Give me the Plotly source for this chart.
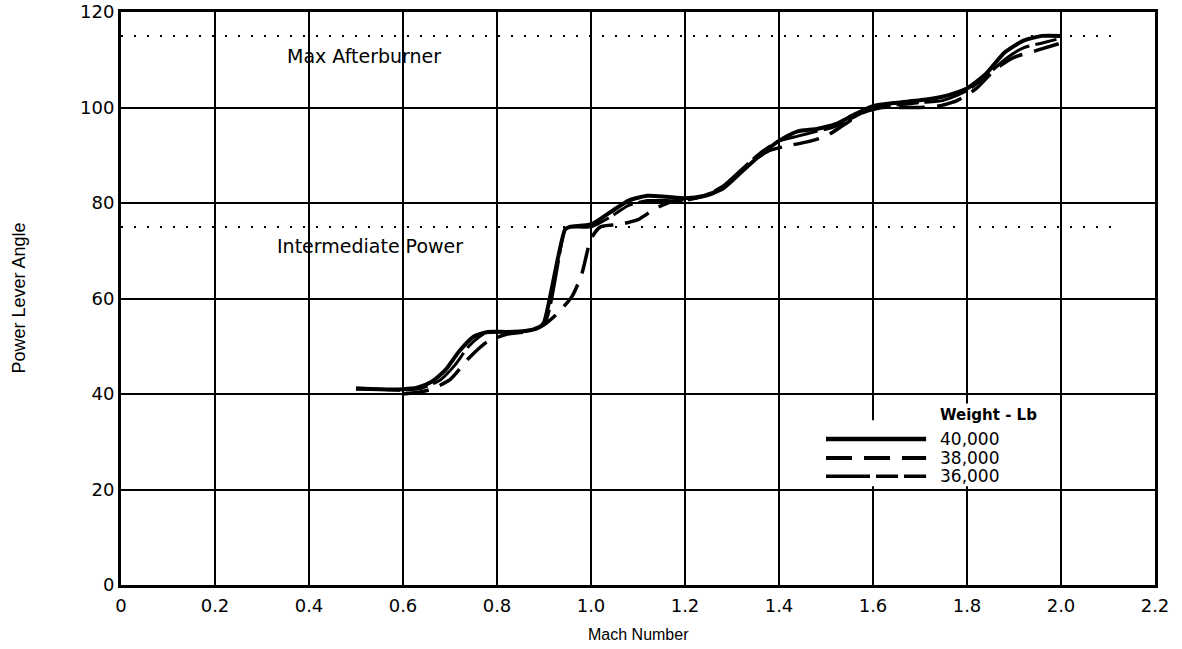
import plotly.graph_objects as go

# Power lever angle vs Mach number for three gross weights
mach_40k = [0.50, 0.55, 0.60, 0.63, 0.66, 0.69, 0.72, 0.75, 0.78, 0.82, 0.86, 0.89, 0.90,
            0.945, 0.955, 1.00, 1.04, 1.08, 1.12, 1.16, 1.20, 1.24, 1.28, 1.32, 1.36, 1.40,
            1.44, 1.48, 1.52, 1.56, 1.60, 1.65, 1.70, 1.75, 1.80, 1.84, 1.88, 1.92, 1.96, 2.00]
pla_40k = [41.2, 41.0, 41.0, 41.3, 42.5, 45.0, 49.0, 52.0, 53.0, 53.0, 53.2, 54.0, 55.0,
           74.5, 75.0, 75.5, 78.0, 80.5, 81.5, 81.3, 81.0, 81.5, 83.0, 86.5, 90.0, 93.0,
           95.0, 95.5, 96.5, 98.5, 100.3, 101.0, 101.5, 102.3, 104.0, 107.0, 111.5, 114.0, 115.0, 115.0]

mach_38k = [0.60, 0.63, 0.66, 0.70, 0.74, 0.78, 0.82, 0.86, 0.90, 0.93, 0.96, 0.98, 1.00,
            1.02, 1.06, 1.10, 1.14, 1.18, 1.22, 1.26, 1.30, 1.34, 1.38, 1.42, 1.46, 1.50,
            1.54, 1.58, 1.62, 1.66, 1.70, 1.74, 1.78, 1.82, 1.86, 1.90, 1.95, 2.00]
pla_38k = [40.0, 40.3, 41.0, 43.0, 47.5, 51.0, 52.5, 53.0, 54.5, 57.0, 60.5, 65.0, 72.5,
           75.0, 75.5, 76.5, 79.0, 80.5, 81.0, 82.0, 85.0, 88.5, 91.0, 92.0, 92.8, 94.0,
           96.5, 99.0, 100.0, 100.0, 100.0, 100.3, 101.5, 104.0, 108.0, 110.5, 112.0, 113.5]

mach_36k = [0.50, 0.55, 0.60, 0.64, 0.68, 0.71, 0.74, 0.77, 0.80, 0.85, 0.90, 0.945, 0.955,
            1.00, 1.04, 1.08, 1.12, 1.16, 1.20, 1.24, 1.28, 1.32, 1.36, 1.40, 1.44, 1.48,
            1.52, 1.56, 1.60, 1.65, 1.70, 1.75, 1.80, 1.84, 1.88, 1.92, 1.96, 2.00]
pla_36k = [41.0, 41.0, 40.8, 41.2, 43.0, 46.0, 50.0, 52.5, 53.0, 53.0, 54.5, 74.5, 75.0,
           75.0, 77.0, 79.5, 80.5, 80.5, 80.5, 81.5, 83.5, 87.0, 90.5, 93.0, 94.0, 95.0,
           96.0, 98.0, 100.0, 100.5, 101.0, 101.5, 103.5, 106.5, 110.0, 112.5, 113.5, 114.5]

weights = ["40,000", "38,000", "36,000"]
dash_styles = ["solid", "26px,12px", "44px,6px,22px,6px"]

# Throttle limit reference levels
limit_names = ["Max Afterburner", "Intermediate Power"]
limit_pla = [115, 75]
limit_mach_span = [0.0, 2.12]

x_ticks = [0, 0.2, 0.4, 0.6, 0.8, 1.0, 1.2, 1.4, 1.6, 1.8, 2.0, 2.2]
x_tick_text = ["0", "0.2", "0.4", "0.6", "0.8", "1.0", "1.2", "1.4", "1.6", "1.8", "2.0", "2.2"]
y_ticks = [0, 20, 40, 60, 80, 100, 120]

FONT = "Liberation Sans, Arial, sans-serif"
WIDE = "DejaVu Sans, Verdana, sans-serif"

fig = go.Figure()

for name, level in zip(limit_names, limit_pla):
    fig.add_trace(go.Scatter(
        x=limit_mach_span, y=[level, level], mode="lines",
        line=dict(color="black", width=2, dash="2px,11px"),
        showlegend=False, hoverinfo="skip"))

series = [(mach_40k, pla_40k), (mach_38k, pla_38k), (mach_36k, pla_36k)]
widths = [4, 3.5, 3]
for (xs, ys), dash, w, name in zip(series, dash_styles, widths, weights):
    fig.add_trace(go.Scatter(
        x=xs, y=ys, mode="lines", name=name,
        line=dict(color="black", width=w, dash=dash, shape="spline", smoothing=0.6),
        showlegend=False))

# Limit labels
fig.add_annotation(x=0.517, y=110.8, text="Max Afterburner", showarrow=False,
                   font=dict(family=WIDE, size=19, color="black"))
fig.add_annotation(x=0.53, y=71.0, text="Intermediate Power", showarrow=False,
                   font=dict(family=WIDE, size=19, color="black"))

# Legend box with long line samples
fig.add_shape(type="rect", x0=1.47, x1=1.99, y0=20.7, y1=34.5,
              fillcolor="white", line=dict(width=0), layer="above")
fig.add_shape(type="rect", x0=1.72, x1=1.99, y0=34.0, y1=38.0,
              fillcolor="white", line=dict(width=0), layer="above")
fig.add_annotation(x=1.738, y=35.6, text="<b>Weight - Lb</b>", showarrow=False,
                   xanchor="left", font=dict(family=WIDE, size=15, color="black"))
legend_rows = [30.6, 26.6, 22.8]
for ry, dash, w, name in zip(legend_rows, dash_styles, widths, weights):
    fig.add_shape(type="line", x0=1.50, x1=1.713, y0=ry, y1=ry,
                  line=dict(color="black", width=w + 0.5, dash=dash), layer="above")
    fig.add_annotation(x=1.738, y=ry, text=name, showarrow=False, xanchor="left",
                       font=dict(family=WIDE, size=17, color="black"))

# Axis titles
fig.add_annotation(xref="paper", yref="paper", x=0.5, y=0, yshift=-49,
                   yanchor="middle", text="Mach Number", showarrow=False,
                   font=dict(family=FONT, size=16, color="black"))
fig.add_annotation(xref="paper", yref="paper", x=0, y=0.5, xshift=-103,
                   xanchor="center", yanchor="middle",
                   text="Power Lever Angle", showarrow=False, textangle=-90,
                   font=dict(family=FONT, size=18, color="black"))

fig.update_layout(
    width=1182, height=649,
    margin=dict(l=121, r=27, t=12, b=64, autoexpand=False),
    paper_bgcolor="white", plot_bgcolor="white",
    font=dict(family=FONT, color="black"),
    showlegend=False,
)
fig.update_xaxes(
    range=[0, 2.2], tickvals=x_ticks, ticktext=x_tick_text,
    showgrid=True, gridcolor="black", gridwidth=2,
    showline=True, linecolor="black", linewidth=3, mirror=True,
    zeroline=False, ticks="", ticklabelstandoff=2,
    tickfont=dict(size=18, family=WIDE), automargin=False,
)
fig.update_yaxes(
    range=[0, 120], tickvals=y_ticks,
    showgrid=True, gridcolor="black", gridwidth=2,
    showline=True, linecolor="black", linewidth=3, mirror=True,
    zeroline=False, ticks="",
    tickfont=dict(size=18, family=WIDE), automargin=False,
)

fig.write_html("out.html")
